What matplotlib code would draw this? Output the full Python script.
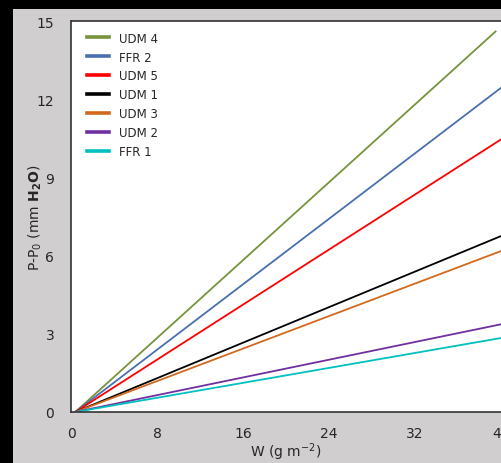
import matplotlib
matplotlib.use("Agg")
import matplotlib.pyplot as plt
from matplotlib.patches import Rectangle

# series: label, end value of P-Po at the last W
labels = ["UDM 4", "FFR 2", "UDM 5", "UDM 1", "UDM 3", "UDM 2", "FFR 1"]
colors = ["#77933c", "#4a6fb0", "#ff0000", "#000000", "#d2691e", "#7030a0", "#00c0c0"]
w_start = [0.4, 0.4, 0.4, 0.4, 0.4, 0.4, 0.4]
w_end = [39.5, 41.0, 41.0, 41.0, 41.0, 41.0, 41.0]
p_end = [14.6, 12.75, 10.72, 6.92, 6.33, 3.45, 2.91]

xticks = [0, 8, 16, 24, 32, 40]
yticks = [0, 3, 6, 9, 12, 15]

plt.rcParams['font.family'] = ['DejaVu Sans']

fig = plt.figure(figsize=(5.02, 4.64), dpi=100, facecolor="black")
# grey panel
fig.patches.append(Rectangle((13 / 502, 0), 1, (464 - 10) / 464,
                             transform=fig.transFigure, facecolor="#d0cece",
                             edgecolor="none", zorder=-5))

ax = fig.add_axes([71 / 502, 51 / 464, 451.5 / 502, 391 / 464])
ax.set_facecolor("white")
for i in range(len(labels)):
    ax.plot([w_start[i], w_end[i]], [0, p_end[i]], color=colors[i], lw=1.3,
            label=labels[i])

ax.set_xlim(0, 42)
ax.set_ylim(0, 15)
ax.set_xticks(xticks)
ax.set_yticks(yticks)
ax.tick_params(length=0, labelsize=10, colors="#262626")
ax.tick_params(axis="y", pad=12)
ax.tick_params(axis="x", pad=10)
for s in ax.spines.values():
    s.set_color("#333333")
    s.set_linewidth(1.2)
ax.spines["right"].set_visible(False)

leg = ax.legend(loc="upper left", frameon=False, fontsize=8.5, handlelength=1.9,
                handletextpad=0.8, labelspacing=0.5,
                bbox_to_anchor=(0.012, 1.0))
for h in leg.get_lines():
    h.set_linewidth(2.6)
for t in leg.get_texts():
    t.set_color("#262626")

fig.text(286 / 502, 1 - 452 / 464, r"W (g m$^{\mathregular{-2}}$)", ha="center",
         va="center", fontsize=10, color="#262626")
fig.text(35 / 502, 1 - 218 / 464,
         r"P-P$_{\mathregular{0}}$ (mm $\mathbf{H_2O}$)", ha="center", va="center",
         rotation=90, fontsize=10, color="#262626")

fig.savefig("out.png", dpi=100, facecolor=fig.get_facecolor())
